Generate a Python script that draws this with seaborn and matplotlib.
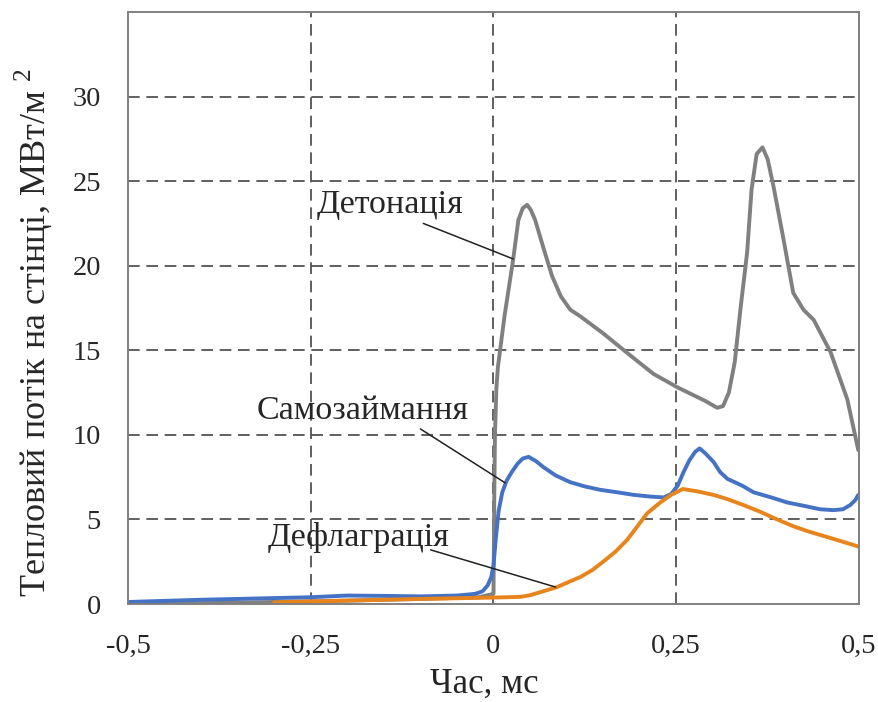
import matplotlib
matplotlib.use("Agg")
import matplotlib.pyplot as plt
import numpy as np
import pandas as pd
import seaborn as sns

# Детонація (gray)
det_x = [-0.5, -0.4, -0.3, -0.2, -0.1, -0.02, 0.0, 0.001, 0.002, 0.004, 0.006, 0.015,
         0.027, 0.034, 0.040, 0.046, 0.051, 0.057, 0.068, 0.080, 0.092, 0.105, 0.119,
         0.150, 0.187, 0.219, 0.252, 0.290, 0.306, 0.314, 0.322, 0.330, 0.338, 0.347,
         0.353, 0.360, 0.368, 0.375, 0.383, 0.397, 0.410, 0.424, 0.438, 0.461, 0.484,
         0.499]
det_y = [0.0, 0.05, 0.12, 0.2, 0.3, 0.4, 0.6, 6.0, 10.0, 12.8, 14.0, 17.0,
         20.4, 22.7, 23.4, 23.6, 23.3, 22.7, 21.1, 19.4, 18.2, 17.4, 17.0,
         16.0, 14.7, 13.6, 12.8, 12.0, 11.6, 11.7, 12.5, 14.3, 17.5, 20.8,
         24.5, 26.6, 27.0, 26.3, 24.7, 21.5, 18.4, 17.4, 16.8, 14.9, 12.1,
         9.1]

# Самозаймання (blue)
sam_x = [-0.5, -0.4, -0.3, -0.25, -0.2, -0.15, -0.1, -0.05, -0.025, -0.015, -0.008,
         -0.003, 0.0, 0.003, 0.007, 0.012, 0.018, 0.025, 0.033, 0.040, 0.048, 0.058,
         0.068, 0.085, 0.105, 0.125, 0.146, 0.170, 0.192, 0.215, 0.233, 0.243, 0.252,
         0.260, 0.268, 0.276, 0.282, 0.290, 0.301, 0.310, 0.320, 0.340, 0.356, 0.380,
         0.402, 0.425, 0.447, 0.465, 0.478, 0.488, 0.495, 0.499]
sam_y = [0.12, 0.25, 0.35, 0.4, 0.5, 0.48, 0.45, 0.5, 0.6, 0.75, 1.1,
         1.6, 2.3, 3.8, 5.5, 6.6, 7.3, 7.8, 8.3, 8.6, 8.7, 8.45,
         8.1, 7.6, 7.2, 6.95, 6.75, 6.6, 6.45, 6.35, 6.3, 6.5, 7.0,
         7.8, 8.5, 9.0, 9.2, 8.9, 8.4, 7.8, 7.4, 7.0, 6.6, 6.3,
         6.0, 5.8, 5.6, 5.55, 5.6, 5.85, 6.15, 6.45]

# Дефлаграція (orange)
def_x = [-0.3, -0.2, -0.1, 0.0, 0.037, 0.050, 0.064, 0.087, 0.100, 0.119, 0.135,
         0.150, 0.167, 0.183, 0.197, 0.21, 0.228, 0.243, 0.259, 0.280, 0.301, 0.320,
         0.342, 0.365, 0.388, 0.41, 0.43, 0.465, 0.499]
def_y = [0.1, 0.2, 0.3, 0.38, 0.42, 0.52, 0.7, 1.0, 1.25, 1.6, 2.0,
         2.5, 3.1, 3.8, 4.6, 5.35, 6.0, 6.45, 6.8, 6.65, 6.45, 6.2,
         5.85, 5.45, 5.0, 4.6, 4.3, 3.85, 3.4]

x_ticks = [-0.5, -0.25, 0, 0.25, 0.5]
x_tick_labels = ["-0,5", "-0,25", "0", "0,25", "0,5"]
y_ticks = [0, 5, 10, 15, 20, 25, 30]

sns.set_style("white")
plt.rcParams["font.family"] = ["Liberation Serif", "DejaVu Serif"]
plt.rcParams["mathtext.fontset"] = "custom"
plt.rcParams["mathtext.rm"] = "Liberation Serif"

fig = plt.figure(figsize=(8.79, 7.02), dpi=100)
ax = fig.add_axes([128 / 879, 1 - 604 / 702, 731 / 879, 592 / 702])

series = [
    (det_x, det_y, "#808080"),
    (sam_x, sam_y, "#4472C4"),
    (def_x, def_y, "#E8841C"),
]
for xs, ys, color in series:
    df = pd.DataFrame({"x": xs, "y": ys})
    sns.lineplot(data=df, x="x", y="y", color=color, linewidth=2.8,
                 estimator=None, sort=False, ax=ax,
                 solid_joinstyle="round", solid_capstyle="round")

ax.set_xlim(-0.5, 0.5)
ax.set_ylim(0, 35)
ax.set_xticks(x_ticks)
ax.set_xticklabels(x_tick_labels)
ax.set_yticks(y_ticks)
ax.tick_params(axis="both", labelsize=20.5, width=1.2, color="#555555",
               direction="out")
ax.tick_params(axis="x", length=8.5, pad=13)
ax.tick_params(axis="y", length=7.5, pad=12)

# dashed grid (no vertical lines at the edges)
for xv in [-0.25, 0, 0.25]:
    ax.axvline(xv, color="#444444", lw=1.2, ls=(0, (7, 4)), zorder=0)
for yv in y_ticks[1:]:
    ax.axhline(yv, color="#444444", lw=1.2, ls=(0, (7, 4)), zorder=0)

for s in ax.spines.values():
    s.set_color("#808080")
    s.set_linewidth(1.4)

ax.set_xlabel("Час, мс", fontsize=25)
ax.set_ylabel("Тепловий потік на стінці, МВт/м $^{2}$", fontsize=26)
ax.xaxis.set_label_coords((484 - 128) / 731, -(684 - 604) / 592)
ax.yaxis.set_label_coords(-(128 - 34) / 731, (604 - 333) / 592)
ax.xaxis.label.set_va("center")
ax.yaxis.label.set_va("center")

# labels with leader lines
labels = [
    ("Детонація", (-0.141, 23.6), (-0.096, 22.5), (0.027, 20.4)),
    ("Самозаймання", (-0.179, 11.4), (-0.100, 10.35), (0.016, 7.16)),
    ("Дефлаграція", (-0.185, 3.96), (-0.086, 3.2), (0.085, 1.0)),
]
for text, pos, start, end in labels:
    ax.text(pos[0], pos[1], text, fontsize=24.5, ha="center", va="center")
    ax.annotate("", xy=end, xytext=start,
                arrowprops=dict(arrowstyle="-", color="#222222", lw=1.1,
                                shrinkA=0, shrinkB=0))

fig.savefig("out.png", dpi=100, facecolor="white")
